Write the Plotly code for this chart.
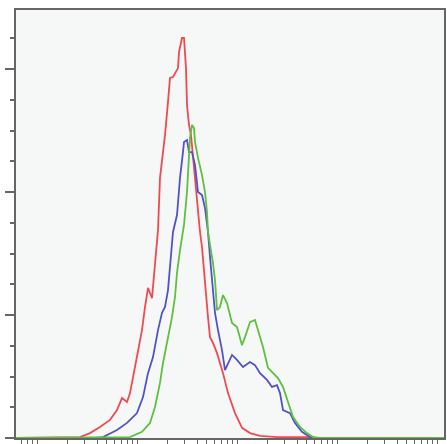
import numpy as np
import plotly.graph_objects as go

# x values: log10 fluorescence intensity; y values: cell counts
red_x = [-0.21, 0.43, 0.53, 0.63, 0.73, 0.80, 0.85, 0.90, 0.93, 0.96, 1.00, 1.05, 1.08, 1.11, 1.15, 1.16,
         1.18, 1.21, 1.23, 1.28, 1.31, 1.33, 1.36, 1.41, 1.42, 1.45, 1.47, 1.48, 1.49, 1.50, 1.52, 1.54,
         1.56, 1.58, 1.61, 1.63, 1.65, 1.68, 1.71, 1.73, 1.76, 1.80, 1.86, 1.91, 1.98, 2.05, 2.13, 2.23,
         2.40, 2.73, 2.80, 4.07]
red_y = [0, 0.3, 1.6, 3.6, 5.9, 9.1, 13.0, 11.7, 14.6, 19.8, 26.3, 35.1, 42.6, 48.8, 45.5, 49.1,
         56.9, 67.6, 84.6, 98.5, 109.3, 117.1, 117.4, 120.3, 125.5, 130.1, 130.1, 125.5, 120.3, 108.3, 101.8, 98.5,
         91.1, 84.6, 73.5, 67.0, 62.1, 49.1, 39.3, 32.8, 30.9, 27.6, 21.1, 14.6, 8.1, 3.3, 1.6, 0.7,
         0.3, 0.3, 0, 0]

blue_x = [-0.21, 0.58, 0.66, 0.80, 0.90, 1.00, 1.06, 1.11, 1.16, 1.21, 1.25, 1.28, 1.31, 1.33, 1.35, 1.36,
          1.40, 1.43, 1.46, 1.47, 1.50, 1.52, 1.55, 1.58, 1.61, 1.65, 1.68, 1.71, 1.73, 1.75, 1.78, 1.81,
          1.85, 1.88, 1.95, 2.00, 2.06, 2.13, 2.18, 2.23, 2.30, 2.35, 2.40, 2.43, 2.46, 2.53, 2.58, 2.65,
          2.73, 2.78, 4.07]
blue_y = [0, 0, 0.3, 2.6, 4.9, 8.1, 13.3, 21.1, 26.3, 35.1, 40.7, 42.6, 48.1, 56.9, 64.4, 67.0,
          72.5, 84.6, 93.0, 96.3, 96.9, 93.0, 93.0, 88.8, 80.0, 79.0, 74.8, 67.0, 58.9, 51.4, 40.7, 35.1,
          28.6, 22.1, 27.0, 25.4, 23.1, 24.7, 23.7, 21.1, 18.9, 16.6, 17.2, 14.6, 9.1, 8.1, 4.9, 2.0,
          0.3, 0, 0]

green_x = [-0.21, 0.93, 1.05, 1.13, 1.18, 1.23, 1.26, 1.31, 1.35, 1.38, 1.40, 1.43, 1.46, 1.47, 1.50, 1.52,
           1.53, 1.55, 1.57, 1.58, 1.61, 1.65, 1.68, 1.70, 1.71, 1.73, 1.76, 1.78, 1.80, 1.83, 1.86, 1.90,
           1.95, 2.00, 2.05, 2.08, 2.13, 2.18, 2.21, 2.26, 2.31, 2.36, 2.41, 2.46, 2.51, 2.56, 2.63, 2.70,
           2.76, 2.83, 4.07]
green_y = [0, 0.3, 2.0, 4.9, 10.1, 17.9, 24.4, 32.8, 39.3, 45.9, 53.7, 61.1, 67.6, 69.3, 80.0, 91.1,
           97.6, 101.8, 100.8, 96.3, 91.1, 85.5, 80.0, 73.5, 67.0, 62.8, 56.9, 51.4, 41.6, 42.6, 46.5, 43.9,
           37.4, 36.1, 30.2, 32.8, 37.7, 38.4, 35.1, 29.6, 22.8, 21.1, 19.5, 16.6, 11.4, 6.8, 3.6, 1.6,
           0.3, 0, 0]

x_range = [-0.21, 4.07]
y_range = [0, 139.2]
y_major = [0, 40, 80, 120]

# log tick positions (decades and 2..9 sub-ticks)
x_ticks = [d + np.log10(k) for d in range(-1, 5) for k in range(1, 10)]
x_ticks = [t for t in x_ticks if x_range[0] <= t <= x_range[1]]

fig = go.Figure()
series = [(red_x, red_y, "#f04a50"), (blue_x, blue_y, "#5252c8"), (green_x, green_y, "#5fbf3f")]
for xs, ys, col in series:
    fig.add_trace(go.Scatter(x=xs, y=ys, mode="lines", line=dict(color=col, width=1.8),
                             hoverinfo="skip", showlegend=False))

axis_col = "#666666"
fig.update_layout(
    width=447, height=444,
    margin=dict(l=16, r=3, t=10, b=6, autoexpand=False),
    paper_bgcolor="white",
    plot_bgcolor="#f6f8f8",
    showlegend=False,
    xaxis=dict(range=x_range, automargin=False, showgrid=False, zeroline=False, showline=True,
               linecolor=axis_col, linewidth=2, mirror=True, tickmode="array", tickvals=x_ticks,
               ticks="outside", ticklen=8, tickcolor=axis_col, tickwidth=1, showticklabels=False,
               layer="below traces"),
    yaxis=dict(range=y_range, automargin=False, showgrid=False, zeroline=False, showline=True,
               linecolor=axis_col, linewidth=2, mirror=True, tickmode="array", tickvals=y_major,
               ticks="outside", ticklen=9, tickcolor=axis_col, tickwidth=2, showticklabels=False,
               layer="below traces",
               minor=dict(dtick=10, tick0=0, ticks="outside", ticklen=4, tickcolor=axis_col,
                          tickwidth=2, showgrid=False)),
)

fig.write_html("out.html", config={"displayModeBar": False},
               post_script="document.body.style.margin='0';document.body.style.overflow='hidden';")
